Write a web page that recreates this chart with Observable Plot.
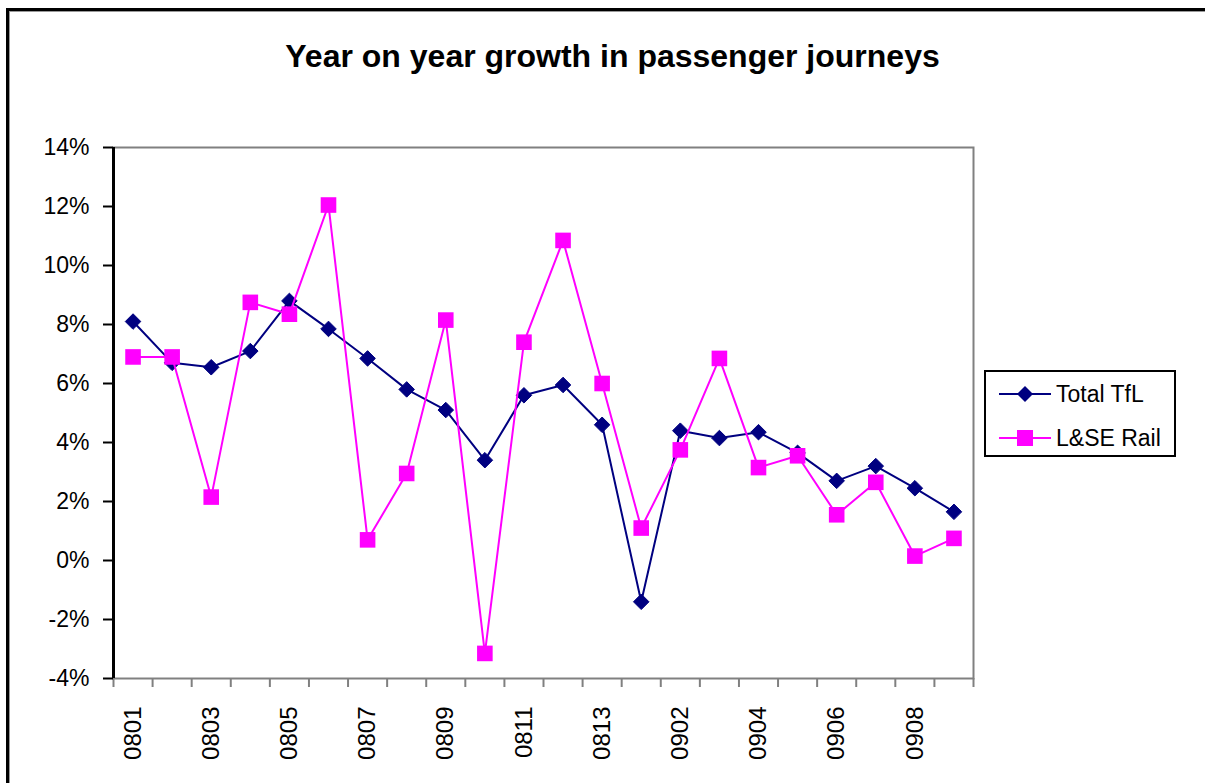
<!DOCTYPE html>
<html><head><meta charset="utf-8">
<script src="https://cdn.jsdelivr.net/npm/d3@7"></script>
<script src="https://cdn.jsdelivr.net/npm/@observablehq/plot@0.6"></script>
<style>
body{margin:0;background:#fff;font-family:"Liberation Sans",Arial,sans-serif;}
#wrap{position:relative;width:1205px;height:783px;overflow:hidden;background:#fff;}
#frame{position:absolute;left:6px;top:8px;width:1300px;height:900px;border-left:3px solid #000;border-top:3px solid #000;box-shadow:inset 1px 1px 0 #999;}
#title{position:absolute;left:0;width:1225px;top:38px;text-align:center;font-weight:bold;font-size:32px;color:#000;}
#chart{position:absolute;left:0;top:0;}
#legend{position:absolute;left:984px;top:370px;width:188px;height:83px;border:2px solid #000;background:#fff;font-size:23px;}
.lrow{position:absolute;left:0;height:30px;display:flex;align-items:center;}
.lrow svg{margin-left:13px;margin-right:5px;}
</style></head>
<body>
<div id="wrap">
<div id="frame"></div>
<div id="chart"></div>
<div id="title">Year on year growth in passenger journeys</div>
<div id="legend"></div>
</div>
<script>
const categories = ["0801","0802","0803","0804","0805","0806","0807","0808","0809","0810","0811","0812","0813",
                    "0901","0902","0903","0904","0905","0906","0907","0908","0909"];
const totalTfL = [8.1,6.7,6.55,7.1,8.8,7.85,6.85,5.8,5.1,3.4,5.6,5.95,4.6,-1.4,4.4,4.15,4.35,3.65,2.7,3.2,2.45,1.65];
const lseRail  = [6.9,6.9,2.15,8.75,8.35,12.05,0.7,2.95,8.15,-3.15,7.4,10.85,6.0,1.1,3.75,6.85,3.15,3.55,1.55,2.65,0.15,0.75];
const yTicks = [-4,-2,0,2,4,6,8,10,12,14];
const seriesNames = ["Total TfL","L&SE Rail"];
const seriesColors = ["#000080","#FF00FF"];

const tflRows = categories.map((c,i)=>({i, cat:c, v: totalTfL[i]}));
const railRows = categories.map((c,i)=>({i, cat:c, v: lseRail[i]}));
const boundaries = d3.range(categories.length+1).map(i=>i-0.5);
const labelIdx = d3.range(0, categories.length, 2);

const chart = Plot.plot({
  width:1205, height:783,
  marginLeft:113, marginRight:232, marginTop:147, marginBottom:105,
  style:{background:"transparent", fontFamily:"Liberation Sans, Arial, sans-serif", fontSize:"23px", color:"#000"},
  x:{type:"linear", domain:[-0.5, categories.length-0.5]},
  y:{domain:[-4,14]},
  marks:[
    Plot.frame({stroke:"#808080", strokeWidth:2}),
    Plot.axisX({ticks:boundaries, tickFormat:()=>"", tickSize:9, stroke:"#808080", strokeWidth:2, label:null}),
    Plot.axisX({ticks:labelIdx, tickFormat:i=>categories[i], tickSize:0, tickPadding:28, tickRotate:-90, fontSize:24, label:null}),
    Plot.axisY({ticks:yTicks, tickFormat:d=>d+"%", tickSize:10, tickPadding:14, stroke:"#000", strokeWidth:2, fontSize:23, label:null}),
    Plot.ruleX([-0.5], {stroke:"#000", strokeWidth:3}),
    Plot.line(tflRows, {x:"i", y:"v", stroke:seriesColors[0], strokeWidth:2}),
    Plot.dot(tflRows, {x:"i", y:"v", symbol:"diamond2", r:7, fill:seriesColors[0], stroke:seriesColors[0], strokeWidth:1}),
    Plot.line(railRows, {x:"i", y:"v", stroke:seriesColors[1], strokeWidth:2}),
    Plot.dot(railRows, {x:"i", y:"v", symbol:"square", r:8.8, fill:seriesColors[1]})
  ]
});
document.getElementById("chart").appendChild(chart);

const legend = document.getElementById("legend");
seriesNames.forEach((name,k)=>{
  const row = document.createElement("div");
  row.className = "lrow";
  row.style.top = (k===0 ? 7 : 51) + "px";
  const marker = k===0
    ? `<path d="M26,6 L34,14 L26,22 L18,14 Z" fill="${seriesColors[0]}"/>`
    : `<rect x="18" y="6" width="16" height="16" fill="${seriesColors[1]}"/>`;
  row.innerHTML = `<svg width="52" height="28"><line x1="0" x2="52" y1="14" y2="14" stroke="${seriesColors[k]}" stroke-width="2"/>${marker}</svg><span>${name}</span>`;
  legend.appendChild(row);
});
</script>
</body></html>
